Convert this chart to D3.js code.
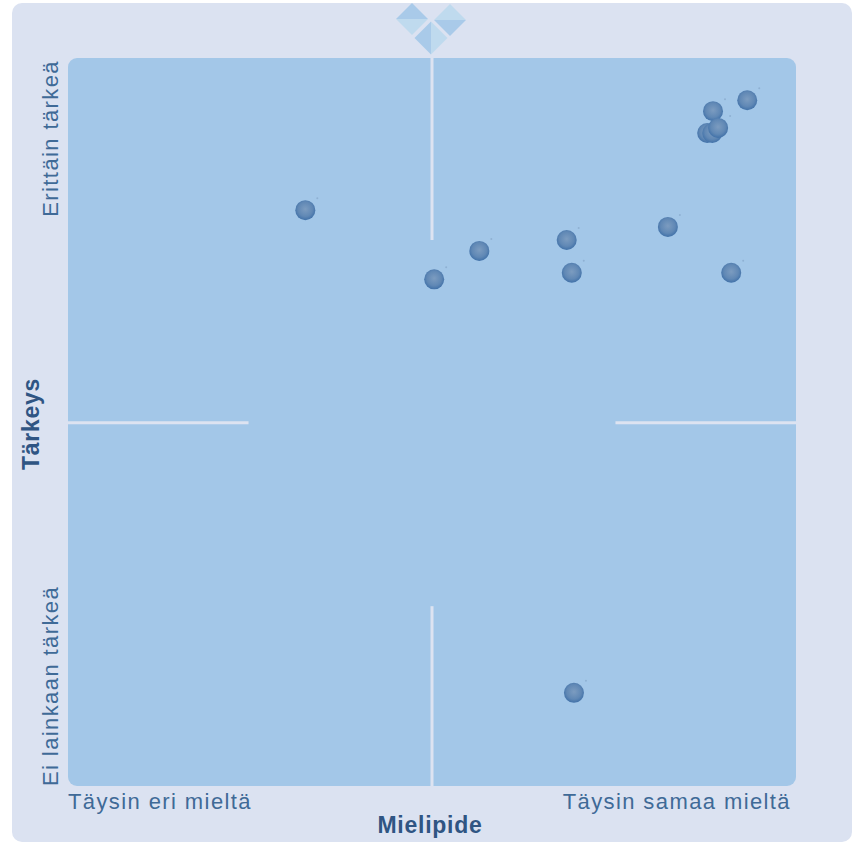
<!DOCTYPE html>
<meta charset="utf-8">
<style>
	html, body { margin: 0; padding: 0; background: #fff; }
	text { font-family: "Liberation Sans", Arial, sans-serif; }
	.end_label { fill: #3f6a97; font-size: 22px; letter-spacing: 1.4px; }
	.axis_title { fill: #2f5583; font-size: 23px; font-weight: bold; letter-spacing: .75px; }
	.cross { stroke: #dde3f1; stroke-width: 3px; }
</style>
<body>
	<div id="chart"></div>
	<script src="https://d3js.org/d3.v7.min.js"></script>
	<script>
		// opinion (x) and importance (y), both 0-100
		var opinion =    [32.6, 50.3, 56.5, 68.5, 69.2, 82.4, 91.1, 93.3, 88.6, 87.8, 88.5, 89.3, 69.5];
		var importance = [79.1, 69.6, 73.5, 75.0, 70.5, 76.8, 70.5, 94.2, 92.7, 89.7, 89.7, 90.4, 12.8];
		var x_labels = ["Täysin eri mieltä", "Täysin samaa mieltä"];
		var y_labels = ["Ei lainkaan tärkeä", "Erittäin tärkeä"];
		var x_title = "Mielipide";
		var y_title = "Tärkeys";
		var h_cross_ends = [[0, 24.8], [75.2, 100]];
		var v_cross_ends = [[0, 24.7], [75, 100]];
		var cross_center = [50, 49.9];

		var width = 857, height = 842;
		var margin = {top: 58, right: 61, bottom: 56, left: 68};

		var x = d3.scaleLinear().domain([0, 100]).range([margin.left, width - margin.right]);
		var y = d3.scaleLinear().domain([0, 100]).range([height - margin.bottom, margin.top]);

		var svg = d3.select("#chart").append("svg")
				.attr("width", width)
				.attr("height", height)
				.style("display", "block");

		// ball shading
		var ball = svg.append("defs").append("radialGradient")
				.attr("id", "ball")
				.attr("cx", "50%").attr("cy", "45%").attr("r", "56%");
		ball.append("stop").attr("offset", "0%").attr("stop-color", "#7c9cc0");
		ball.append("stop").attr("offset", "65%").attr("stop-color", "#6088b5");
		ball.append("stop").attr("offset", "100%").attr("stop-color", "#3f70a8");

		// background panel and plot area
		svg.append("rect")
				.attr("x", 12).attr("y", 3)
				.attr("width", 840).attr("height", 839)
				.attr("rx", 10)
				.attr("fill", "#dbe2f1");
		svg.append("rect")
				.attr("x", x(0)).attr("y", y(100))
				.attr("width", x(100) - x(0)).attr("height", y(0) - y(100))
				.attr("rx", 9)
				.attr("fill", "#a3c7e8");

		// the logo on top, three diamonds split in two shades
		function diamond(cx, cy, r, vertical, c1, c2) {
			var g = svg.append("g").attr("transform", "translate(" + cx + "," + cy + ")");
			var a = vertical ? [[0, -r], [0, r], [-r, 0]] : [[-r, 0], [r, 0], [0, -r]];
			var b = vertical ? [[0, -r], [0, r], [r, 0]] : [[-r, 0], [r, 0], [0, r]];
			g.append("polygon").attr("points", a.join(" ")).attr("fill", c1);
			g.append("polygon").attr("points", b.join(" ")).attr("fill", c2);
		}
		diamond(412, 19, 16, false, "#a9cae9", "#bfdaee");
		diamond(450, 20, 16, false, "#bfdaee", "#a9cae9");
		diamond(431, 38, 16.5, true, "#a9cae9", "#bfdaee");

		// quadrant cross, only the outer parts are drawn
		v_cross_ends.forEach(function (e) {
			svg.append("line").attr("class", "cross")
					.attr("x1", x(cross_center[0])).attr("x2", x(cross_center[0]))
					.attr("y1", y(e[0])).attr("y2", y(e[1]));
		});
		h_cross_ends.forEach(function (e) {
			svg.append("line").attr("class", "cross")
					.attr("x1", x(e[0])).attr("x2", x(e[1]))
					.attr("y1", y(cross_center[1])).attr("y2", y(cross_center[1]));
		});

		// faint speck up and right of every ball
		svg.selectAll("circle.speck")
				.data(opinion)
				.enter().append("circle")
				.attr("class", "speck")
				.attr("cx", function (d) { return x(d) + 12; })
				.attr("cy", function (d, i) { return y(importance[i]) - 12; })
				.attr("r", 1)
				.attr("fill", "#8fb1d3");

		svg.selectAll("circle.point")
				.data(opinion)
				.enter().append("circle")
				.attr("class", "point")
				.attr("cx", function (d) { return x(d); })
				.attr("cy", function (d, i) { return y(importance[i]); })
				.attr("r", 10)
				.attr("fill", "url(#ball)");

		// end labels
		svg.append("text").attr("class", "end_label")
				.attr("x", x(0)).attr("y", 809)
				.text(x_labels[0]);
		svg.append("text").attr("class", "end_label")
				.attr("x", 791).attr("y", 809)
				.attr("text-anchor", "end")
				.text(x_labels[1]);
		svg.append("text").attr("class", "end_label")
				.attr("transform", "translate(58,786) rotate(-90)")
				.text(y_labels[0]);
		svg.append("text").attr("class", "end_label")
				.attr("transform", "translate(58,60) rotate(-90)")
				.attr("text-anchor", "end")
				.text(y_labels[1]);

		// axis titles
		svg.append("text").attr("class", "axis_title")
				.attr("x", 430).attr("y", 833)
				.attr("text-anchor", "middle")
				.text(x_title);
		svg.append("text").attr("class", "axis_title")
				.attr("transform", "translate(39,424) rotate(-90)")
				.attr("text-anchor", "middle")
				.text(y_title);
	</script>
</body>
